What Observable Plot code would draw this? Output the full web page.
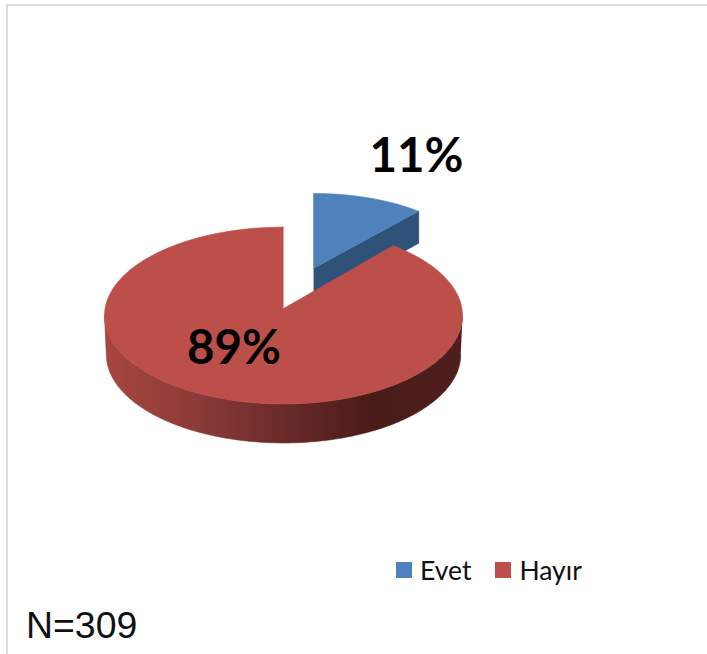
<!DOCTYPE html>
<html lang="tr">
<head>
<meta charset="utf-8">
<script src="https://cdn.jsdelivr.net/npm/d3@7"></script>
<script src="https://cdn.jsdelivr.net/npm/@observablehq/plot@0.6"></script>
<style>
  html, body { margin: 0; padding: 0; background: #fff; overflow: hidden; }
  body { position: relative; width: 707px; height: 654px; }
  #frame { position: absolute; left: 6px; top: 4px; right: 0; bottom: 0; border-left: 2px solid #dcdcdc; border-top: 2px solid #dcdcdc; pointer-events: none; }
  #chart { position: absolute; left: 0; top: 0; }
  #chart svg { display: block; background: transparent; }
  #legend { position: absolute; left: 396px; top: 555px; height: 30px; display: flex; align-items: center; font: 26.5px Lato, sans-serif; color: #111; }
  #legend .item { display: flex; align-items: center; margin-right: 24px; }
  #legend .swatch { width: 16px; height: 16px; margin-right: 8px; }
  #caption { position: absolute; left: 26px; top: 604px; font: 37.4px/42px "Liberation Sans", Arial, sans-serif; color: #111; }
</style>
</head>
<body>
<div id="frame"></div>
<div id="chart"></div>
<div id="legend"></div>
<div id="caption"></div>
<script>
// Data
const categories = ["Evet", "Hayır"];
const percents = [11, 89];
const sampleLabel = "N=309";

// Colours
const topColors = ["#4f81bd", "#bd4f4b"];
const blueSide = "#2f5279";

// Oblique pie projection, in units of the pie's radius
const W = 707, H = 555, PX = 179, CX = 283, CY = 315;
const redShape = { x: 0, y: 0, rx: 1, ry: 0.494, apexY: 0.039, depth: 0.218, bottomRx: 0.99, startShift: -0.005 };
const blueShape = { x: 0.168, y: 0.246, rx: 0.922, ry: 0.436, apexY: 0.263, depth: 0.179 };

const fractions = d3.cumsum(percents).map((d) => d / d3.sum(percents));
const point = (f, s, dy = 0, rx = s.rx) => ({
  x: s.x + rx * Math.sin(2 * Math.PI * f),
  y: s.y + s.ry * Math.cos(2 * Math.PI * f) - dy
});
const arc = (a, b, s, dy, rx) => d3.range(0, 121).map((i) => point(a + (b - a) * i / 120, s, dy, rx));

const evetEnd = fractions[0];
const evetTop = [{ x: blueShape.x, y: blueShape.apexY }, ...arc(0, evetEnd, blueShape)];
const evetCorner = point(evetEnd, blueShape);
const evetSide = [
  { x: blueShape.x, y: blueShape.apexY },
  evetCorner,
  { x: evetCorner.x, y: evetCorner.y - blueShape.depth },
  { x: blueShape.x, y: blueShape.apexY - blueShape.depth }
];
const hayirTop = [{ x: redShape.x, y: redShape.apexY }, ...arc(evetEnd + redShape.startShift, 1, redShape)];
const hayirSide = [
  ...arc(0.25, 0.75, redShape),
  ...arc(0.75, 0.25, redShape, redShape.depth, redShape.bottomRx)
];

const labels = [
  { x: (416 - CX) / PX, y: (CY - 156) / PX, text: percents[0] + "%" },
  { x: (233.5 - CX) / PX, y: (CY - 348) / PX, text: percents[1] + "%" }
];

const filled = (data, fill) => Plot.line(data, { x: "x", y: "y", fill, stroke: fill, strokeWidth: 0.6, curve: "linear" });

const plot = Plot.plot({
  width: W,
  height: H,
  margin: 0,
  x: { domain: [-CX / PX, (W - CX) / PX], range: [0, W], axis: null },
  y: { domain: [(CY - H) / PX, CY / PX], range: [H, 0], axis: null },
  style: { background: "transparent" },
  marks: [
    filled(evetSide, blueSide),
    filled(evetTop, topColors[0]),
    filled(hayirSide, "url(#redSide)"),
    filled(hayirTop, topColors[1]),
    Plot.text(labels, {
      x: "x", y: "y", text: "text",
      fontFamily: "Lato, sans-serif", fontWeight: 700, fontSize: 47.5, fill: "#000"
    })
  ]
});

const defs = d3.select(plot).append("defs");
const grad = defs.append("linearGradient").attr("id", "redSide")
  .attr("x1", 0).attr("x2", 1).attr("y1", 0).attr("y2", 0);
[[0, "#a8463f"], [0.25, "#8c3b38"], [0.5, "#6a2b29"], [0.75, "#491b19"], [1, "#4e1f1d"]]
  .forEach(([o, c]) => grad.append("stop").attr("offset", o).attr("stop-color", c));

document.getElementById("chart").append(plot);

const legend = d3.select("#legend");
categories.forEach((c, i) => {
  const item = legend.append("div").attr("class", "item");
  item.append("div").attr("class", "swatch").style("background", topColors[i]);
  item.append("span").text(c);
});
document.getElementById("caption").textContent = sampleLabel;
</script>
</body>
</html>
